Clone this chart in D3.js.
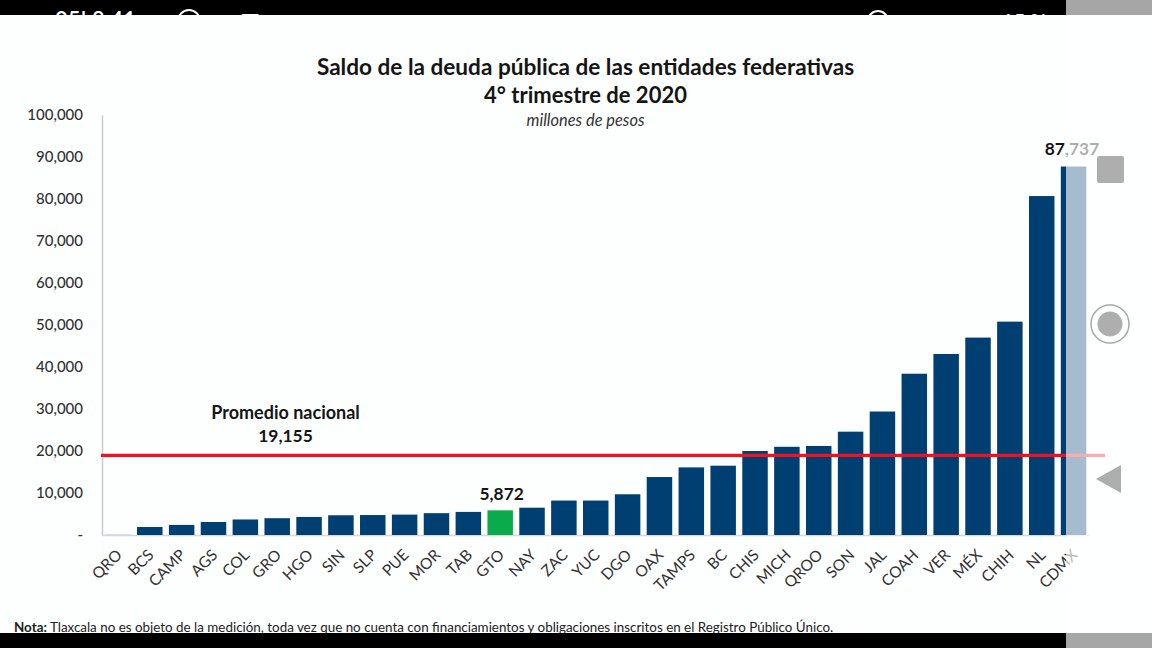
<!DOCTYPE html>
<html>
<head>
<meta charset="utf-8">
<script src="https://cdn.jsdelivr.net/npm/d3@7"></script>
<style>
html, body { margin: 0; padding: 0; background: #fdfefe; overflow: hidden; }
svg { display: block; font-family: Lato, "Open Sans", sans-serif; }
.axis text { fill: #333; font-family: Lato, "Open Sans", sans-serif; }
</style>
</head>
<body>
<svg></svg>
<script>
var estados = ["QRO","BCS","CAMP","AGS","COL","GRO","HGO","SIN","SLP","PUE","MOR","TAB","GTO","NAY","ZAC","YUC","DGO","OAX","TAMPS","BC","CHIS","MICH","QROO","SON","JAL","COAH","VER","MÉX","CHIH","NL","CDMX"];
var saldos = [150,1900,2400,3100,3700,4000,4300,4700,4750,4850,5200,5500,5872,6500,8200,8200,9700,13800,16100,16500,20000,21000,21200,24600,29400,38400,43100,47000,50800,80700,87737];
var yTicks = [0,10000,20000,30000,40000,50000,60000,70000,80000,90000,100000];
var promedio = 19155;

var svgWidth = 1152, svgHeight = 648;
var svg = d3.select('svg').attr('width', svgWidth).attr('height', svgHeight);

var xScale = d3.scaleBand().domain(estados).range([102, 1089.5]).paddingInner(0.2).paddingOuter(0.1);
var yScale = d3.scaleLinear().domain([0, 100000]).range([535, 115]);

var y_axis = d3.axisLeft(yScale).tickValues(yTicks).tickSize(0).tickPadding(19)
    .tickFormat(function(d){ return d === 0 ? "-" : d3.format(",")(d); });
var x_axis = d3.axisBottom(xScale).tickSize(0).tickPadding(0);

var gy = svg.append("g").attr("class", "axis").attr("transform", "translate(102,0)").call(y_axis);
gy.select(".domain").attr("stroke", "#c8cccf").attr("stroke-width", 1.5);
gy.selectAll("text").attr("font-size", 15).attr("font-weight", 500);

var gx = svg.append("g").attr("class", "axis").attr("transform", "translate(0,535)").call(x_axis);
gx.select(".domain").attr("stroke", "#d4d8da").attr("stroke-width", 1.5);
gx.selectAll("text")
    .attr("font-size", 15.5)
    .attr("text-anchor", "end")
    .attr("dy", 0).attr("y", 0)
    .attr("transform", "translate(5,21) rotate(-45)");

svg.selectAll('.bar')
    .data(estados)
    .enter()
    .append('rect')
    .attr('class', 'bar')
    .attr('x', function(d){ return xScale(d); })
    .attr('width', xScale.bandwidth())
    .attr('y', function(d,i){ return yScale(saldos[i]); })
    .attr('height', function(d,i){ return 535 - yScale(saldos[i]); })
    .attr('fill', function(d){ return d === "QRO" ? "#c9d6e0" : d === "GTO" ? "#0bab4b" : "#003f72"; });

// linea del promedio
svg.append("line")
    .attr("x1", 101).attr("x2", 1105)
    .attr("y1", yScale(promedio) + 0.8).attr("y2", yScale(promedio) + 0.8)
    .attr("stroke", "#f5101f").attr("stroke-width", 3.2);

var bold = function(x, y, s, size, color){
    return svg.append("text").attr("x", x).attr("y", y).attr("text-anchor", "middle")
        .attr("font-weight", 700).attr("font-size", size).attr("fill", color || "#151515").text(s);
};
bold(585.5, 74.5, "Saldo de la deuda pública de las entidades federativas", 22.6);
bold(585.5, 102.5, "4° trimestre de 2020", 22);
svg.append("text").attr("x", 585.5).attr("y", 126).attr("text-anchor", "middle")
    .attr("font-style", "italic").attr("font-size", 16.4).attr("fill", "#333").text("millones de pesos");
bold(285.5, 419, "Promedio nacional", 18);
bold(285.5, 442, d3.format(",")(promedio), 17.4);
bold(xScale("GTO") + xScale.bandwidth() / 2 + 1.5, 500, d3.format(",")(saldos[12]), 17.4);
bold(1072, 155, d3.format(",")(saldos[30]), 17.4);

var nota = svg.append("text").attr("x", 14).attr("y", 632).attr("font-size", 13.4).attr("fill", "#222").attr("text-decoration", "underline");
nota.append("tspan").attr("font-weight", 700).text("Nota:");
nota.append("tspan").text(" Tlaxcala no es objeto de la medición, toda vez que no cuenta con financiamientos y obligaciones inscritos en el Registro Público Único.");

// panel translucido del telefono
svg.append("rect").attr("x", 1066).attr("y", 15).attr("width", 86).attr("height", 618).attr("fill", "#fff").attr("opacity", 0.65);

svg.append("rect").attr("x", 1097).attr("y", 156).attr("width", 27).attr("height", 27).attr("rx", 2).attr("fill", "#aeaeae");
svg.append("circle").attr("cx", 1110).attr("cy", 324).attr("r", 19).attr("fill", "none").attr("stroke", "#a8a8a8").attr("stroke-width", 1.5);
svg.append("circle").attr("cx", 1110).attr("cy", 324).attr("r", 12.5).attr("fill", "#aeaeae");
svg.append("path").attr("d", "M1096 479 L1121 465 L1121 493 Z").attr("fill", "#aeaeae");

// barras negras de la captura
svg.append("rect").attr("width", 1066).attr("height", 15).attr("fill", "#000");
svg.append("rect").attr("x", 1066).attr("width", 86).attr("height", 15).attr("fill", "#a6a6a6");
svg.append("rect").attr("y", 633).attr("width", 1066).attr("height", 15).attr("fill", "#000");
svg.append("rect").attr("x", 1066).attr("y", 633).attr("width", 86).attr("height", 15).attr("fill", "#a6a6a6");

// el encabezado del telefono queda cortado por el borde de la captura
svg.append("clipPath").attr("id", "corte").append("rect").attr("width", 1066).attr("height", 16);
var barraEstado = svg.append("g").attr("fill", "#fff").attr("font-size", 22).attr("font-weight", 600).attr("clip-path", "url(#corte)");
barraEstado.append("text").attr("x", 55).attr("y", 28).text("05!  8:41");
barraEstado.append("circle").attr("cx", 189).attr("cy", 21).attr("r", 11).attr("fill", "none").attr("stroke", "#fff").attr("stroke-width", 2);
barraEstado.append("text").attr("x", 222).attr("y", 28).text("♥  ✉  ⋯");
barraEstado.append("circle").attr("cx", 878).attr("cy", 21).attr("r", 10).attr("fill", "none").attr("stroke", "#fff").attr("stroke-width", 2);
barraEstado.append("text").attr("x", 1002).attr("y", 28).attr("font-size", 20).text("15 %");
</script>
</body>
</html>
